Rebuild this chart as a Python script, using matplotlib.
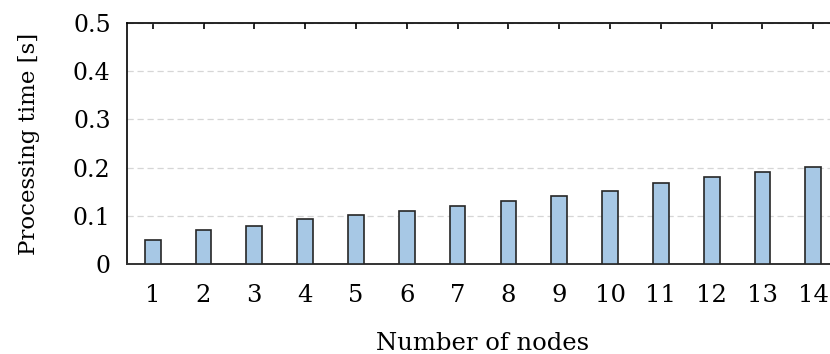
import matplotlib
matplotlib.use("Agg")
import matplotlib.pyplot as plt

nodes = [1, 2, 3, 4, 5, 6, 7, 8, 9, 10, 11, 12, 13, 14]
times = [0.05, 0.07, 0.08, 0.093, 0.101, 0.11, 0.12, 0.13, 0.142, 0.151, 0.169, 0.181, 0.191, 0.202]
yticks = [0, 0.1, 0.2, 0.3, 0.4, 0.5]
yticklabels = ["0", "0.1", "0.2", "0.3", "0.4", "0.5"]

plt.rcParams['font.family'] = ['DejaVu Serif']

fig = plt.figure(figsize=(8.3, 3.54), dpi=100)
W, H = 830, 354
left, right = 127.3, 838.7
bottom, top = 264.3, 22.7
ax = fig.add_axes([left / W, (H - bottom) / H, (right - left) / W, (bottom - top) / H])

ax.bar(nodes, times, width=0.31, color='#a7c8e5', edgecolor='#262626', linewidth=1.2, zorder=3)

ax.set_xlim(0.5, 14.5)
ax.set_ylim(0, 0.5)
ax.set_yticks(yticks)
ax.set_yticklabels(yticklabels)
ax.set_xticks(nodes)
ax.set_xticklabels([str(n) for n in nodes])

ax.yaxis.grid(True, linestyle=(0, (5, 3)), color='#d6d6d6', linewidth=0.9, zorder=0)
ax.set_axisbelow(True)

ax.spines['right'].set_visible(False)
ax.spines['top'].set_color('black')
ax.spines['top'].set_linewidth(1.2)
ax.spines['left'].set_color('black')
ax.spines['left'].set_linewidth(1.2)
ax.spines['bottom'].set_color('#333333')
ax.spines['bottom'].set_linewidth(1.4)

ax.tick_params(axis='x', which='both', bottom=False, top=True, direction='in', length=4,
               width=1.2, labelsize=17.5, pad=14, colors='black')
ax.tick_params(axis='y', which='both', left=False, right=False, labelsize=17, pad=8.5)

ax.set_xlabel('Number of nodes', fontsize=17.5, labelpad=18.5)
ax.set_ylabel('Processing time [s]', fontsize=16.5, labelpad=24)

fig.savefig('out.png', dpi=100)
